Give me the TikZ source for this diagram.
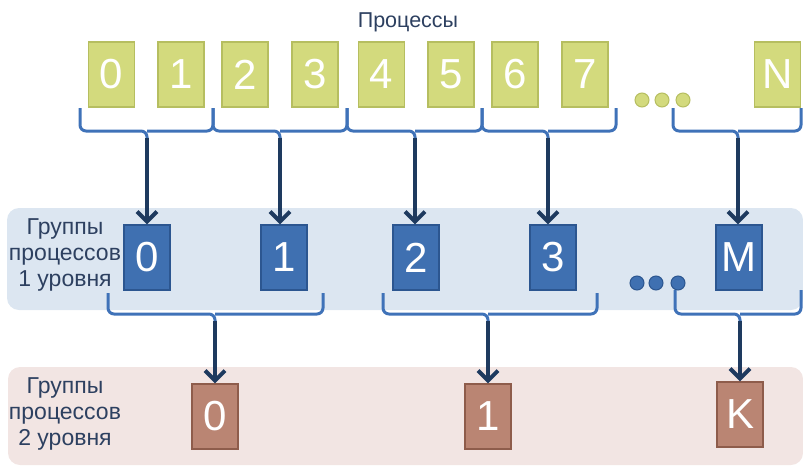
\documentclass[tikz,border=0pt]{standalone}
\usepackage{fontspec}
\setmainfont{Liberation Sans}
\usetikzlibrary{arrows.meta}

\definecolor{procfill}{HTML}{D3DA7D}
\definecolor{procline}{HTML}{B6BE60}
\definecolor{grpfill}{HTML}{3F70B1}
\definecolor{grpline}{HTML}{2C5690}
\definecolor{supfill}{HTML}{BA8573}
\definecolor{supline}{HTML}{8E5C4B}
\definecolor{bandblue}{HTML}{DCE6F1}
\definecolor{bandpink}{HTML}{F2E5E3}
\definecolor{bracecol}{HTML}{3F72B8}
\definecolor{arrowcol}{HTML}{1E3A5F}
\definecolor{labelcol}{HTML}{2D4060}

% curly bracket under a row: left end, right end, tip x, top y, bottom y, tip name
\newcommand\rowbrace[6]{%
  \draw[bracket] (#1,#4) -- (#1,#5) -- (#3,#5) -- (#3,#5+9);
  \draw[bracket] (#2,#4) -- (#2,#5) -- (#3,#5);
  \coordinate (#6) at (#3,#5+7);
}

\begin{document}
\begin{tikzpicture}[x=1pt,y=-1pt,
  box/.style={minimum width=46pt, minimum height=65pt, inner sep=0pt,
    line width=1.2pt, text=white, font=\fontsize{42}{42}\selectfont},
  proc/.style={box, fill=procfill, draw=procline},
  grp/.style={box, fill=grpfill, draw=grpline},
  sup/.style={box, fill=supfill, draw=supline},
  dotg/.style={circle, minimum size=14pt, inner sep=0pt, line width=1pt, fill=procfill, draw=procline},
  dotb/.style={circle, minimum size=14pt, inner sep=0pt, line width=1pt, fill=grpfill, draw=grpline},
  band/.style={rounded corners=12pt},
  bracket/.style={draw=bracecol, line width=3pt, rounded corners=6pt},
  arr/.style={draw=arrowcol, line width=4pt, -{Straight Barb[length=10pt,width=20pt]}},
  lbl/.style={text=labelcol, align=center, font=\fontsize{21.5}{26}\selectfont},
  side/.style={lbl, font=\fontsize{23}{26}\selectfont}
]
\useasboundingbox (0,0) rectangle (803,466);

% background bands of the two group levels
\fill[band, bandblue] (7,208) rectangle (803,310);
\fill[band, bandpink] (8,367) rectangle (803,465);

% titles
\node[lbl] (title) at (408,22) {Процессы};
\node[side] (lvl1) at (65,255) {Группы\\процессов\\1 уровня};
\node[side] (lvl2) at (65,414) {Группы\\процессов\\2 уровня};

% processes
\node[proc] (p0) at (111.5,74.5) {0};
\node[proc] (p1) at (181,74.5) {1};
\node[proc] (p2) at (245,74.5) {2};
\node[proc] (p3) at (315,74.5) {3};
\node[proc] (p4) at (381.5,74.5) {4};
\node[proc] (p5) at (451,74.5) {5};
\node[proc] (p6) at (515,74.5) {6};
\node[proc] (p7) at (585,74.5) {7};
\node[proc] (pN) at (777.5,74.5) {N};
\node[dotg] (pd1) at (642,100) {};
\node[dotg] (pd2) at (662,100) {};
\node[dotg] (pd3) at (683,100) {};

% level 1 groups
\node[grp] (g0) at (147,257.5) {0};
\node[grp] (g1) at (284,257.5) {1};
\node[grp] (g2) at (416,257.5) {2};
\node[grp] (g3) at (553,257.5) {3};
\node[grp] (gM) at (739,257.5) {M};
\node[dotb] (gd1) at (637,283) {};
\node[dotb] (gd2) at (656,283) {};
\node[dotb] (gd3) at (678,283) {};

% level 2 groups
\node[sup] (s0) at (215,416.5) {0};
\node[sup] (s1) at (488,416.5) {1};
\node[sup] (sK) at (740,414.5) {K};

% brackets under the processes
\rowbrace{80}{213}{147}{108}{131}{t0}
\rowbrace{213}{347}{280}{108}{131}{t1}
\rowbrace{347}{482}{415}{108}{131}{t2}
\rowbrace{482}{616}{548}{108}{131}{t3}
\rowbrace{673}{801}{738}{108}{131}{tM}

% brackets under the level 1 groups
\rowbrace{108}{323}{215}{293}{314}{u0}
\rowbrace{383}{597}{488}{293}{314}{u1}
\rowbrace{675}{801}{740}{290}{314}{uK}

% arrows to the groups
\draw[arr] (t0) -- (t0 |- g0.north);
\draw[arr] (t1) -- (t1 |- g1.north);
\draw[arr] (t2) -- (t2 |- g2.north);
\draw[arr] (t3) -- (t3 |- g3.north);
\draw[arr] (tM) -- (tM |- gM.north);
\draw[arr] (u0) -- (u0 |- s0.north);
\draw[arr] (u1) -- (u1 |- s1.north);
\draw[arr] (uK) -- (uK |- sK.north);
\end{tikzpicture}
\end{document}
